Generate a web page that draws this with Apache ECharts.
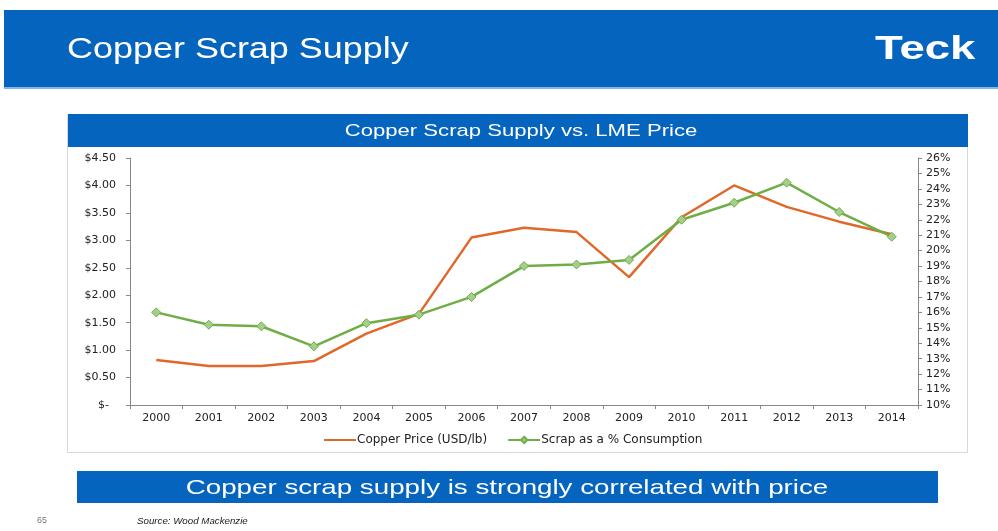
<!DOCTYPE html>
<html><head><meta charset="utf-8">
<script src="https://cdn.jsdelivr.net/npm/echarts@6/dist/echarts.min.js"></script>
<style>html,body{margin:0;padding:0;background:#fff}#c{width:998px;height:531px}</style>
</head><body><div id="c"></div>
<script>
const years = ['2000','2001','2002','2003','2004','2005','2006','2007','2008','2009','2010','2011','2012','2013','2014'];
const copperPrice = [0.82,0.71,0.71,0.80,1.30,1.66,3.05,3.23,3.15,2.33,3.42,4.00,3.61,3.34,3.11];
const scrapPct = [16.0,15.2,15.1,13.8,15.3,15.85,17.0,19.0,19.1,19.4,22.0,23.1,24.4,22.5,20.9];
const leftTicks = {min:0,max:4.5,interval:0.5};
const rightTicks = {min:10,max:26,interval:1};

const FONT = '"Liberation Sans", Arial, sans-serif';
const AXFONT = '"DejaVu Sans", sans-serif';
const BLUE = '#0565BE';
const chart = echarts.init(document.getElementById('c'), null, {renderer:'canvas'});
chart.setOption({
  animation:false,
  backgroundColor:'#fff',
  graphic:[
    {type:'rect',shape:{x:4,y:10,width:994,height:78},style:{fill:BLUE},z:0},
    {type:'rect',shape:{x:4,y:87,width:994,height:2},style:{fill:'#7fb7e6'},z:0},
    {type:'text',x:67,y:50,scaleX:1.24,style:{text:'Copper Scrap Supply',fill:'#fff',font:'29px '+FONT,textVerticalAlign:'middle'},z:1},
    {type:'text',x:875,y:50,scaleX:1.38,style:{text:'Teck',fill:'#fff',font:'bold 33px '+FONT,textVerticalAlign:'middle'},z:1},
    {type:'rect',shape:{x:67.5,y:114.5,width:900,height:338},style:{fill:'#fff',stroke:'#d8d8d8',lineWidth:1},z:0},
    {type:'rect',shape:{x:68,y:114,width:900,height:33},style:{fill:BLUE},z:1},
    {type:'text',x:521,y:131,scaleX:1.3,style:{text:'Copper Scrap Supply vs. LME Price',fill:'#fff',font:'17px '+FONT,textAlign:'center',textVerticalAlign:'middle'},z:2},
    {type:'rect',shape:{x:77,y:471,width:861,height:32},style:{fill:BLUE},z:1},
    {type:'text',x:507,y:488,scaleX:1.32,style:{text:'Copper scrap supply is strongly correlated with price',fill:'#fff',font:'21px '+FONT,textAlign:'center',textVerticalAlign:'middle'},z:2},
    {type:'text',x:37,y:521,style:{text:'65',fill:'#777',font:'9px '+FONT,textVerticalAlign:'middle'},z:2},
    {type:'text',x:137,y:521,scaleX:1.08,style:{text:'Source: Wood Mackenzie',fill:'#222',font:'italic 9px '+FONT,textVerticalAlign:'middle'},z:2}
  ],
  legend:{
    top:429,left:318,itemGap:20,itemWidth:32,itemHeight:8,
    textStyle:{fontFamily:AXFONT,fontSize:12,color:'#222',padding:[0,0,0,-4]},
    data:[
      {name:'Copper Price (USD/lb)',itemStyle:{opacity:0}},
      {name:'Scrap as a % Consumption'}
    ]
  },
  grid:{left:130,right:80,top:158,bottom:126},
  xAxis:{
    type:'category',data:years,boundaryGap:true,
    axisLine:{lineStyle:{color:'#888'}},
    axisTick:{show:true,alignWithLabel:false,length:4,lineStyle:{color:'#888'}},
    axisLabel:{color:'#222',fontFamily:AXFONT,fontSize:11,margin:8}
  },
  yAxis:[
    {type:'value',min:leftTicks.min,max:leftTicks.max,interval:leftTicks.interval,position:'left',
     axisLine:{show:true,lineStyle:{color:'#888'}},axisTick:{show:true,length:4,lineStyle:{color:'#888'}},
     splitLine:{show:false},
     axisLabel:{color:'#222',fontFamily:AXFONT,fontSize:11,margin:14,
       formatter:v=>v===0?'$-  ':'$'+v.toFixed(2)}},
    {type:'value',min:rightTicks.min,max:rightTicks.max,interval:rightTicks.interval,position:'right',
     axisLine:{show:true,lineStyle:{color:'#888'}},axisTick:{show:true,length:4,lineStyle:{color:'#888'}},
     splitLine:{show:false},
     axisLabel:{color:'#222',fontFamily:AXFONT,fontSize:11,margin:8,formatter:v=>v+'%'}}
  ],
  series:[
    {name:'Copper Price (USD/lb)',type:'line',yAxisIndex:0,data:copperPrice,
     symbol:'none',lineStyle:{color:'#E0682A',width:2.5},itemStyle:{color:'#E0682A'}},
    {name:'Scrap as a % Consumption',type:'line',yAxisIndex:1,data:scrapPct,
     symbol:'diamond',symbolSize:9,showSymbol:true,
     lineStyle:{color:'#6FAE46',width:2.5},itemStyle:{color:'#A6CE8B',borderColor:'#6FAE46',borderWidth:1}}
  ]
});
</script></body></html>
